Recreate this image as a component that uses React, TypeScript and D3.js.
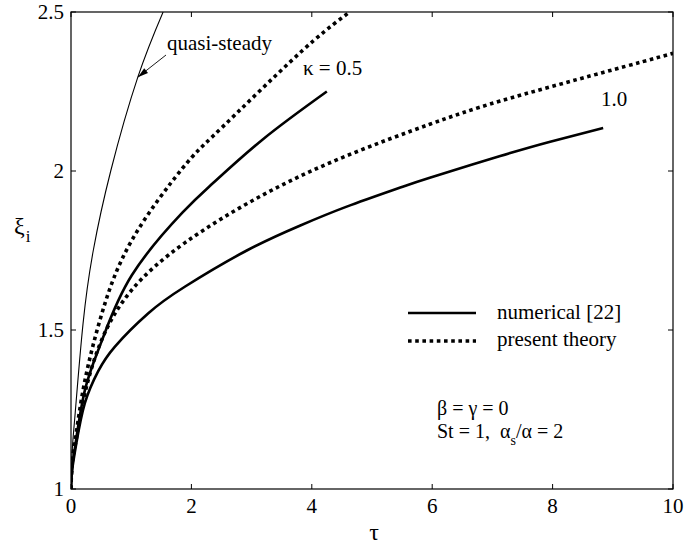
import React from "react";
import * as d3 from "d3";

const xTicks = [0, 2, 4, 6, 8, 10];
const yTicks = [1, 1.5, 2, 2.5];
const yTickLabels = ["1", "1.5", "2", "2.5"];

const quasiTau = [0, 0.02, 0.07, 0.2, 0.37, 0.66, 1.11, 1.53];
const quasiXi = [1, 1.12, 1.24, 1.52, 1.75, 2.0, 2.295, 2.5];

const theory05Tau = [0, 0.02, 0.09, 0.23, 0.51, 1.01, 1.85, 2.36, 3.19, 4.03, 4.63];
const theory05Xi = [1, 1.09, 1.18, 1.34, 1.55, 1.782, 2.008, 2.11, 2.262, 2.41, 2.5];

const num05Tau = [0, 0.02, 0.066, 0.23, 0.51, 1.01, 1.85, 2.36, 3.19, 4.25];
const num05Xi = [1, 1.07, 1.13, 1.31, 1.465, 1.672, 1.869, 1.962, 2.1, 2.25];

const theory10Tau = [0, 0.02, 0.09, 0.23, 0.51, 1.01, 1.89, 3.19, 4.58, 5.96, 7.13, 8.84, 10];
const theory10Xi = [1, 1.08, 1.16, 1.3, 1.469, 1.626, 1.774, 1.925, 2.048, 2.147, 2.22, 2.31, 2.37];

const num10Tau = [0, 0.02, 0.09, 0.23, 0.45, 0.73, 1.28, 1.89, 2.92, 3.8, 4.58, 5.47, 5.96, 7.13, 7.96, 8.84];
const num10Xi = [1, 1.06, 1.145, 1.27, 1.37, 1.448, 1.552, 1.636, 1.75, 1.828, 1.888, 1.948, 1.979, 2.047, 2.092, 2.135];

const W = 699;
const H = 544;
const FONT = "Liberation Serif";

export default function App() {
  const x = d3.scaleLinear().domain([0, 10]).range([71, 673]);
  const y = d3.scaleLinear().domain([1, 2.5]).range([489, 12]);
  const line = d3
    .line<[number, number]>()
    .x((d) => x(d[0]))
    .y((d) => y(d[1]))
    .curve(d3.curveNatural);
  const zip = (a: number[], b: number[]) => a.map((v, i) => [v, b[i]] as [number, number]);

  const x0 = x(0), x1 = x(10), y0 = y(1), y1 = y(2.5);
  const tl = 5;

  const tip: [number, number] = [x(1.11), y(2.295)];
  const tail: [number, number] = [166, 55];
  const ang = Math.atan2(tail[1] - tip[1], tail[0] - tip[0]);
  const ah = 11, aw = 0.28;
  const p1 = [tip[0] + ah * Math.cos(ang + aw), tip[1] + ah * Math.sin(ang + aw)];
  const p2 = [tip[0] + ah * Math.cos(ang - aw), tip[1] + ah * Math.sin(ang - aw)];

  const ts: React.CSSProperties = { fontFamily: FONT };

  return (
    <svg
      width={W}
      height={H}
      style={{ position: "absolute", left: 0, top: 0, background: "#fff", fontFamily: FONT }}
    >
      <rect x={0} y={0} width={W} height={H} fill="#fff" />
      <defs>
        <clipPath id="plot">
          <rect x={x0} y={y1} width={x1 - x0} height={y0 - y1} />
        </clipPath>
      </defs>
      <rect x={x0} y={y1} width={x1 - x0} height={y0 - y1} fill="none" stroke="#000" strokeWidth={1.2} />
      {xTicks.map((t) => (
        <g key={"xt" + t}>
          <line x1={x(t)} x2={x(t)} y1={y0} y2={y0 - tl} stroke="#000" />
          <line x1={x(t)} x2={x(t)} y1={y1} y2={y1 + tl} stroke="#000" />
          <text x={x(t)} y={513} fontSize={21} textAnchor="middle" style={ts}>
            {t}
          </text>
        </g>
      ))}
      {yTicks.map((t, i) => (
        <g key={"yt" + t}>
          <line x1={x0} x2={x0 + tl} y1={y(t)} y2={y(t)} stroke="#000" />
          <line x1={x1} x2={x1 - tl} y1={y(t)} y2={y(t)} stroke="#000" />
          <text x={64} y={y(t) + 7} fontSize={21} textAnchor="end" style={ts}>
            {yTickLabels[i]}
          </text>
        </g>
      ))}
      <text x={374} y={540} fontSize={24} textAnchor="middle" style={ts}>
        τ
      </text>
      <text x={14} y={234} fontSize={24} style={ts}>
        ξ
        <tspan fontSize={17} dx={1} dy={8}>
          i
        </tspan>
      </text>

      <g clipPath="url(#plot)" fill="none" stroke="#000">
        <path d={line(zip(quasiTau, quasiXi)) || ""} strokeWidth={1.1} />
        <path d={line(zip(num05Tau, num05Xi)) || ""} strokeWidth={2.6} />
        <path d={line(zip(num10Tau, num10Xi)) || ""} strokeWidth={2.6} />
        <path d={line(zip(theory05Tau, theory05Xi)) || ""} strokeWidth={3.6} strokeDasharray="3.6 3.6" />
        <path d={line(zip(theory10Tau, theory10Xi)) || ""} strokeWidth={3.6} strokeDasharray="3.6 3.6" />
      </g>

      <line x1={tail[0]} y1={tail[1]} x2={tip[0]} y2={tip[1]} stroke="#000" strokeWidth={0.9} />
      <path d={`M${tip[0]},${tip[1]}L${p1[0]},${p1[1]}L${p2[0]},${p2[1]}Z`} fill="#000" />
      <text x={167} y={50} fontSize={21} style={ts}>
        quasi-steady
      </text>
      <text x={303} y={75} fontSize={21} style={ts}>
        κ = 0.5
      </text>
      <text x={601} y={106} fontSize={21} style={ts}>
        1.0
      </text>

      <line x1={408} x2={476} y1={313} y2={313} stroke="#000" strokeWidth={2.6} />
      <text x={497} y={319} fontSize={21} style={ts}>
        numerical [22]
      </text>
      <line x1={408} x2={476} y1={341} y2={341} stroke="#000" strokeWidth={3.6} strokeDasharray="3.6 3.6" />
      <text x={497} y={346} fontSize={21} style={ts}>
        present theory
      </text>

      <text x={437} y={415} fontSize={20} style={ts}>
        β = γ = 0
      </text>
      <text x={437} y={438} fontSize={20} style={ts} xmlSpace="preserve">
        {"St = 1,  α"}
        <tspan fontSize={14} dy={7}>
          s
        </tspan>
        <tspan dy={-7}>/α = 2</tspan>
      </text>
    </svg>
  );
}
